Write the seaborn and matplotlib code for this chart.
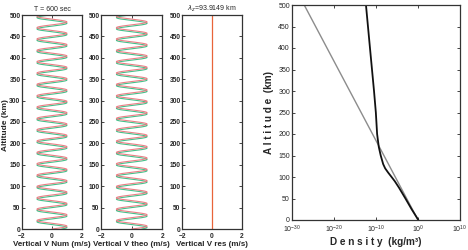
import numpy as np
import pandas as pd
import matplotlib
matplotlib.use('Agg')
import matplotlib.pyplot as plt
import seaborn as sns

# wave
wave_amp = 1.0          # m/s
wave_len = 26.5         # km (apparent zigzag length)
red_phase_km = 0.0
green_shift_km = -3.0   # green sits a bit below red
alt = np.linspace(0, 500, 2001)

# density profiles (right panel), altitude km -> kg/m^3
dens_alt = [0, 25, 50, 75, 90, 100, 110, 120, 130, 150, 170, 200, 250, 300, 400, 500]
dens_msis = [1.2, 3e-2, 1e-3, 3e-5, 3e-6, 5e-7, 8e-8, 1.5e-8, 5e-9, 1.3e-9, 4.5e-10,
             1.8e-10, 9e-11, 3.3e-11, 3.6e-12, 4e-13]
iso_alt = [0, 500]
iso_dens = [1.0, 8e-28]

sns.set_theme(style='white')
plt.rcParams['font.family'] = ['Liberation Sans', 'DejaVu Sans']
plt.rcParams['axes.linewidth'] = 0.9
plt.rcParams['axes.edgecolor'] = '#333333'

fig = plt.figure(figsize=(4.68, 2.5), dpi=100)

red = '#ec7f86'
green = '#45c08a'

left_pos = [(0.047, 0.128), (0.216, 0.131), (0.389, 0.128)]
xlabels = ['Vertical V Num (m/s)', 'Vertical V theo (m/s)', 'Vertical V res (m/s)']
axes = []
for i, (l, w) in enumerate(left_pos):
    ax = fig.add_axes([l, 0.084, w, 0.856])
    if i < 2:
        red_v = wave_amp * np.sin(2 * np.pi * (alt - red_phase_km) / wave_len)
        green_v = wave_amp * np.sin(2 * np.pi * (alt - green_shift_km) / wave_len)
        df = pd.DataFrame({'v': np.r_[green_v, red_v], 'alt': np.r_[alt, alt],
                           's': ['g'] * len(alt) + ['r'] * len(alt)})
        sns.lineplot(data=df, x='v', y='alt', hue='s', palette={'g': green, 'r': red},
                     sort=False, estimator=None, lw=0.8, legend=False, ax=ax)
    else:
        sns.lineplot(x=[0, 0], y=[0, 500], color='#e8643a', lw=0.9, sort=False,
                     estimator=None, ax=ax)
    ax.set_xlim(-2, 2)
    ax.set_ylim(0, 500)
    ax.set_xticks([-2, 0, 2])
    ax.set_yticks(range(0, 501, 50))
    ax.tick_params(direction='in', length=2, width=0.6, labelsize=4.8, pad=1,
                   top=True, right=True, bottom=True, left=True)
    ax.tick_params(axis='x', pad=3)
    for t in ax.get_xticklabels() + ax.get_yticklabels():
        t.set_fontweight('bold')
    ax.set_xlabel(xlabels[i], fontsize=5.8, fontweight='bold', labelpad=0.5)
    ax.set_ylabel('')
    axes.append(ax)

axes[0].set_title('T = 600 sec', fontsize=5, pad=3)
axes[2].set_title(r'$\lambda_z$=93.9149 km', fontsize=5, pad=3)
fig.text(0.011, 0.5, 'Altitude (km)', rotation=90, ha='center', va='center',
         fontsize=6, fontweight='bold')

ax4 = fig.add_axes([0.624, 0.12, 0.359, 0.86])
sns.lineplot(x=iso_dens, y=iso_alt, color='#8c8c8c', lw=1.0, sort=False, estimator=None, ax=ax4)
sns.lineplot(x=dens_msis, y=dens_alt, color='#111111', lw=1.3, sort=False, estimator=None, ax=ax4)
ax4.set_xscale('log')
ax4.set_xlim(1e-30, 1e10)
ax4.set_ylim(0, 500)
ax4.set_xticks([1e-30, 1e-20, 1e-10, 1e0, 1e10])
ax4.minorticks_off()
ax4.set_yticks(range(0, 501, 50))
ax4.tick_params(direction='in', length=2.5, width=0.6, labelsize=5, pad=1.5,
                top=True, right=True, bottom=True, left=True)
ax4.tick_params(axis='x', pad=3)
ax4.set_xlabel('D e n s i t y  (kg/m³)', fontsize=7.2, fontweight='bold', labelpad=1)
ax4.set_ylabel('A l t i t u d e  (km)', fontsize=7.2, fontweight='bold', labelpad=3)

fig.savefig('out.png', dpi=100)
